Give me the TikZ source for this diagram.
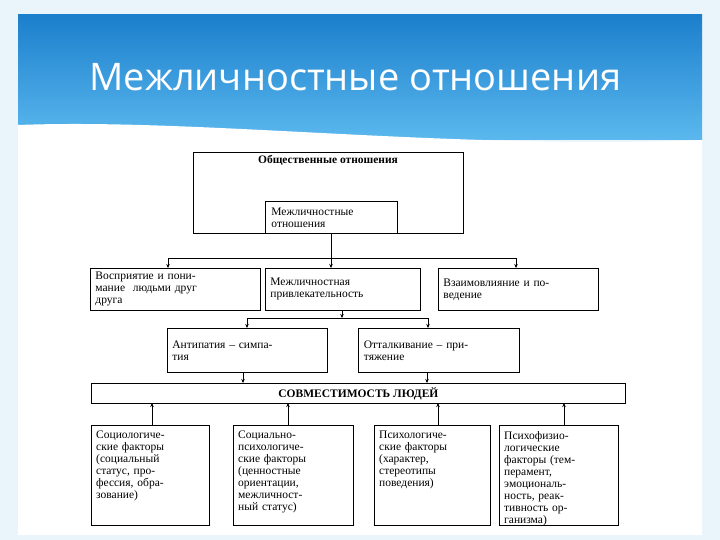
\documentclass[tikz,border=0pt]{standalone}
\usepackage{fontspec}
\setmainfont{Liberation Serif}
\newfontfamily\titlefont{Open Sans}
\usetikzlibrary{arrows.meta}
\definecolor{skyA}{HTML}{1B7FCC}
\definecolor{skyB}{HTML}{5BB8EE}
\definecolor{paleB}{HTML}{EAF4FB}
\begin{document}
\begin{tikzpicture}[x=1pt,y=-1pt,
  bx/.style={draw=black,line width=0.8pt,fill=white,inner sep=3pt,align=left,anchor=north west,font=\fontsize{11.5}{12}\selectfont},
  tx/.style={inner sep=3pt,align=left,anchor=north west,font=\fontsize{11.5}{12}\selectfont},
  ar/.style={-{Stealth[length=4pt,width=3.5pt]},line width=0.7pt},
  ln/.style={line width=0.7pt}]
\useasboundingbox (0,0) rectangle (720,540);
\fill[paleB] (0,0) rectangle (720,540);
\shade[top color=skyA,bottom color=skyB] (18,15) rectangle (702,140);
\fill[white] (18,125) .. controls (200,118) and (450,150) .. (702,140) -- (702,535) -- (18,535) -- cycle;
\fill[white] (88,145) rectangle (627,530);
\node[anchor=west,text=white,font=\titlefont\fontsize{38}{40}\selectfont] (title) at (86,77) {Межличностные отношения};
% top box
\draw[line width=0.8pt] (193,152) rectangle (463,233);
\node[font=\bfseries\fontsize{11.5}{12}\selectfont] (obsh) at (328,160) {Общественные отношения};
\node[bx,minimum width=132pt,minimum height=32pt,text width=120pt] (mezh) at (265,201) {Межличностные\\отношения};
\node[bx,minimum width=170pt,minimum height=42pt,text width=160pt] (b1) at (90,268) {Восприятие и пони-\\мание \ людьми друг\\друга};
\node[bx,minimum width=155pt,minimum height=42pt,text width=145pt] (b2) at (265,268) {Межличностная\\привлекательность};
\node[bx,minimum width=160pt,minimum height=42pt,text width=150pt] (b3) at (438,268) {Взаимовлияние и по-\\ведение};
\coordinate (h1) at (331,258);
\draw[ln] (331,233) -- (h1);
\draw[ln] (168,258) -- (516,258);
\draw[ar] (168,258) -- (168,268);
\draw[ar] (h1) -- (331,268);
\draw[ar] (516,258) -- (516,268);
\node[bx,minimum width=160pt,minimum height=44pt,text width=150pt] (c1) at (167,328) {Антипатия – симпа-\\тия};
\node[bx,minimum width=161pt,minimum height=44pt,text width=150pt] (c2) at (358,328) {Отталкивание – при-\\тяжение};
\coordinate (h2) at (342,318);
\draw[ar] (342,310) -- (h2);
\draw[ln] (247,318) -- (428,318);
\draw[ar] (247,318) -- (247,328);
\draw[ar] (428,318) -- (428,328);
\node[draw,line width=0.8pt,fill=white,anchor=north west,minimum width=534pt,minimum height=20pt,font=\bfseries\fontsize{11.5}{12}\selectfont] (sov) at (91,383) {СОВМЕСТИМОСТЬ ЛЮДЕЙ};
\draw[ar] (243,372) -- (243,383);
\draw[ar] (427,372) -- (427,383);
\draw[line width=0.8pt] (91,425) rectangle (209,525);
\draw[line width=0.8pt] (233,425) rectangle (353,525);
\draw[line width=0.8pt] (374,425) rectangle (490,525);
\draw[line width=0.8pt] (499,425) rectangle (618,525);
\node[tx,text width=110pt] (d1) at (93,428) {Социологиче-\\ские факторы\\(социальный\\статус, про-\\фессия, обра-\\зование)};
\node[tx,text width=112pt] (d2) at (235,428) {Социально-\\психологиче-\\ские факторы\\(ценностные\\ориентации,\\межличност-\\ный статус)};
\node[tx,text width=108pt] (d3) at (376,428) {Психологиче-\\ские факторы\\(характер,\\стереотипы\\поведения)};
\node[tx,text width=110pt] (d4) at (501,428) {Психофизио-\\логические\\факторы (тем-\\перамент,\\эмоциональ-\\ность, реак-\\тивность ор-\\ганизма)};
\draw[ar] (152,425) -- (152,403);
\draw[ar] (288,425) -- (288,403);
\draw[ar] (438,425) -- (438,403);
\draw[ar] (564,425) -- (564,403);
\end{tikzpicture}
\end{document}
